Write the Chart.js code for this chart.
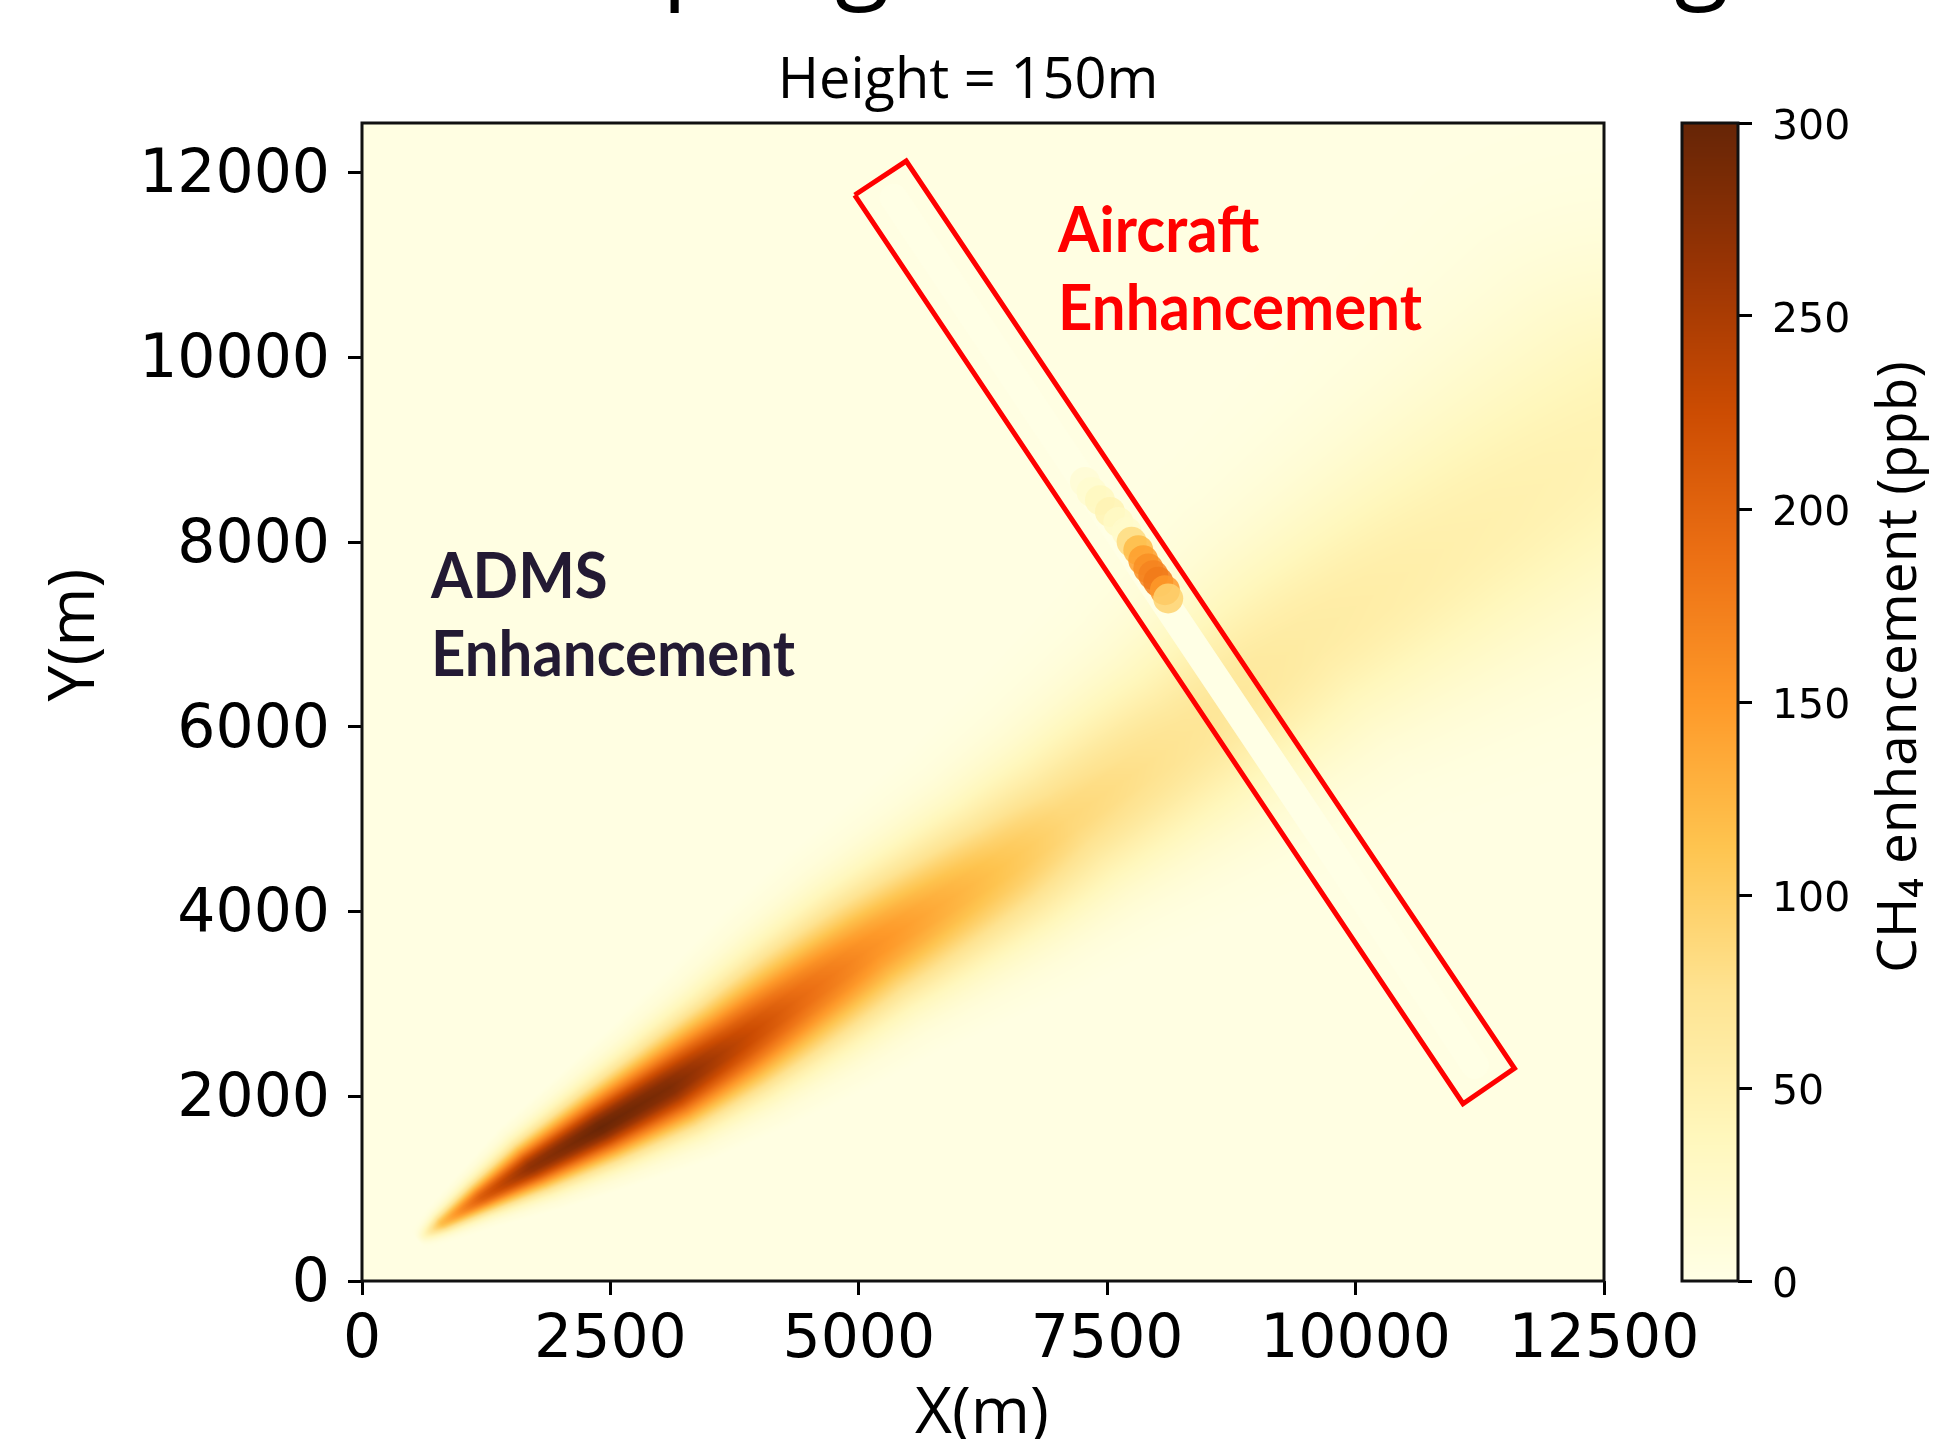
<!DOCTYPE html>
<html>
<head>
<meta charset="utf-8">
<script src="https://cdn.jsdelivr.net/npm/chart.js@4.4.1/dist/chart.umd.min.js"></script>
<style>
  html, body { margin: 0; padding: 0; background: #fff; }
  #wrap { position: relative; width: 1933px; height: 1439px; overflow: hidden; }
  #plume { position: absolute; left: 0; top: 0; }
  #scale { position: absolute; left: 1640px; top: 0; }
</style>
</head>
<body>
<div id="wrap">
  <canvas id="plume" width="1933" height="1439"></canvas>
  <canvas id="scale" width="293" height="1439"></canvas>
</div>
<script>
// axis ticks
const xTicks = [0, 2500, 5000, 7500, 10000, 12500];
const yTicks = [0, 2000, 4000, 6000, 8000, 10000, 12000];
const ch4Ticks = [0, 50, 100, 150, 200, 250, 300];

// ADMS plume (m, ppb, m)
const plumeAxisX = [560, 800, 1200, 1700, 2400, 3100, 3750, 4400, 5100, 5800, 6450, 7100, 8300, 9500, 11000, 12700];
const plumeAxisY = [440, 620, 900, 1230, 1660, 2100, 2560, 3060, 3590, 4060, 4500, 5000, 5900, 6950, 8000, 9200];
const plumePeak = [0, 115, 205, 268, 295, 280, 235, 192, 156, 130, 108, 86, 68, 56, 48, 42];
const plumeSpread = [45, 75, 120, 180, 240, 300, 350, 400, 440, 480, 520, 570, 680, 800, 970, 1150];
const plumeBackground = 3;

// cross-section of the plume: share of the peak at n spreads from the axis
const profileStep = [0, 0.25, 0.5, 0.75, 1, 1.25, 1.5, 1.75, 2, 2.25, 2.5, 2.75, 3];
const profileShare = [1, 0.97, 0.88, 0.75, 0.6, 0.46, 0.33, 0.22, 0.14, 0.08, 0.04, 0.02, 0];

// aircraft samples (m, m, ppb)
const aircraftX = [7276, 7343, 7427, 7528, 7612, 7696, 7746, 7813, 7863, 7914, 7964, 8014, 8081, 8114];
const aircraftY = [8653, 8545, 8455, 8328, 8220, 8112, 8004, 7914, 7806, 7716, 7643, 7571, 7481, 7391];
const aircraftCH4 = [15, 20, 35, 45, 30, 25, 85, 120, 145, 160, 170, 178, 150, 95];

// flight track and the box drawn round it
const trackX = [5350, 11200];
const trackY = [11730, 2340];
const boxX = [4959, 5477, 11599, 11081, 4959];
const boxY = [11760, 12128, 2304, 1920, 11760];

// YlOrBr colour map
const ylOrBr = [[255,255,229],[255,247,188],[254,227,145],[254,196,79],[254,153,41],[236,112,20],[204,76,2],[153,52,4],[102,37,6]];

function colourOf(v) {
  const t = Math.max(0, Math.min(1, v / 300)) * 8;
  const i = Math.min(7, Math.floor(t));
  const f = t - i;
  const a = ylOrBr[i], b = ylOrBr[i + 1];
  return [a[0] + (b[0] - a[0]) * f, a[1] + (b[1] - a[1]) * f, a[2] + (b[2] - a[2]) * f];
}

function rgba(v, alpha) {
  const c = colourOf(v).map(Math.round);
  return `rgba(${c[0]},${c[1]},${c[2]},${alpha})`;
}

function profileAt(r) {
  if (r >= profileStep[profileStep.length - 1]) return 0;
  for (let i = 0; i < profileStep.length - 1; i++) {
    if (r < profileStep[i + 1]) {
      const f = (r - profileStep[i]) / (profileStep[i + 1] - profileStep[i]);
      return profileShare[i] + (profileShare[i + 1] - profileShare[i]) * f;
    }
  }
  return 0;
}

function plumeAt(x, y) {
  let best = Infinity, seg = 0, bt = 0;
  for (let i = 0; i < plumeAxisX.length - 1; i++) {
    const ax = plumeAxisX[i], ay = plumeAxisY[i];
    const dx = plumeAxisX[i + 1] - ax, dy = plumeAxisY[i + 1] - ay;
    let t = ((x - ax) * dx + (y - ay) * dy) / (dx * dx + dy * dy);
    t = t < 0 ? 0 : t > 1 ? 1 : t;
    const ex = x - (ax + t * dx), ey = y - (ay + t * dy);
    const d2 = ex * ex + ey * ey;
    if (d2 < best) { best = d2; seg = i; bt = t; }
  }
  const peak = plumePeak[seg] + (plumePeak[seg + 1] - plumePeak[seg]) * bt;
  const spread = plumeSpread[seg] + (plumeSpread[seg + 1] - plumeSpread[seg]) * bt;
  return plumeBackground + peak * profileAt(Math.sqrt(best) / spread);
}

const plumeLayer = {
  id: 'plumeLayer',
  beforeDatasetsDraw(chart) {
    const { ctx, chartArea, scales } = chart;
    const left = Math.round(chartArea.left), top = Math.round(chartArea.top);
    const w = Math.round(chartArea.right) - left, h = Math.round(chartArea.bottom) - top;
    const img = ctx.createImageData(w, h);
    const xs = [], ys = [];
    for (let i = 0; i < w; i++) xs.push(scales.x.getValueForPixel(left + i + 0.5));
    for (let j = 0; j < h; j++) ys.push(scales.y.getValueForPixel(top + j + 0.5));
    let k = 0;
    for (let j = 0; j < h; j++) {
      for (let i = 0; i < w; i++) {
        const c = colourOf(plumeAt(xs[i], ys[j]));
        img.data[k++] = c[0]; img.data[k++] = c[1]; img.data[k++] = c[2]; img.data[k++] = 255;
      }
    }
    ctx.putImageData(img, left, top);
  },
  afterDatasetsDraw(chart) {
    const { ctx, chartArea } = chart;
    ctx.save();
    ctx.strokeStyle = '#111';
    ctx.lineWidth = 3;
    ctx.strokeRect(chartArea.left, chartArea.top, chartArea.right - chartArea.left, chartArea.bottom - chartArea.top);
    ctx.restore();
  },
};

function drawNote(ctx, lines, colour, x, y) {
  ctx.save();
  ctx.font = 'bold 64px Lato';
  ctx.fillStyle = colour;
  ctx.textAlign = 'left';
  ctx.textBaseline = 'alphabetic';
  const sx = 364 / ctx.measureText('Enhancement').width;
  lines.forEach((line, i) => {
    ctx.save();
    ctx.translate(x, y + i * 78);
    ctx.scale(sx, 1);
    ctx.fillText(line, 0, 0);
    ctx.restore();
  });
  ctx.restore();
}

const textLayer = {
  id: 'textLayer',
  afterDraw(chart) {
    const { ctx, scales } = chart;
    ctx.save();
    ctx.fillStyle = '#000';
    ctx.textBaseline = 'alphabetic';

    ctx.font = '100px "Open Sans"';
    ctx.textAlign = 'left';
    ctx.fillText('Sampling ADMS Data Using Aircraft', 459, -11);

    ctx.font = '56px "Open Sans"';
    ctx.textAlign = 'center';
    ctx.fillText('Height = 150m', 968, 98);

    ctx.font = '64px "Open Sans"';
    ctx.fillText('X(m)', 982, 1433);

    ctx.save();
    ctx.translate(76, 635);
    ctx.rotate(-Math.PI / 2);
    ctx.textBaseline = 'middle';
    ctx.fillText('Y(m)', 0, 0);
    ctx.restore();
    ctx.restore();

    drawNote(ctx, ['ADMS', 'Enhancement'], '#231a33',
      scales.x.getPixelForValue(694), scales.y.getPixelForValue(7394));
    drawNote(ctx, ['Aircraft', 'Enhancement'], '#ff0000',
      scales.x.getPixelForValue(7005), scales.y.getPixelForValue(11140));
  },
};

const tickFont = { family: 'DejaVu Sans', size: 60 };
const tickGrid = { drawOnChartArea: false, drawTicks: true, tickLength: 14, tickWidth: 3, tickColor: '#000' };

new Chart(document.getElementById('plume'), {
  type: 'scatter',
  data: {
    datasets: [
      {
        label: 'Flight box',
        data: boxX.map((x, i) => ({ x, y: boxY[i] })),
        showLine: true,
        borderColor: '#ff0000',
        borderWidth: 5,
        pointRadius: 0,
        borderJoinStyle: 'miter',
      },
      {
        label: 'Aircraft',
        data: aircraftX.map((x, i) => ({ x, y: aircraftY[i] })),
        pointRadius: 15,
        pointBackgroundColor: aircraftCH4.map((v) => rgba(v, 0.85)),
        pointBorderColor: 'transparent',
        pointBorderWidth: 0,
      },
      {
        label: 'Track',
        data: trackX.map((x, i) => ({ x, y: trackY[i] })),
        showLine: true,
        borderColor: rgba(0, 1),
        borderWidth: 28,
        borderCapStyle: 'round',
        pointRadius: 0,
      },
    ],
  },
  options: {
    responsive: false,
    animation: false,
    devicePixelRatio: 1,
    layout: { padding: { top: 123, right: 329, left: 0, bottom: 0 } },
    plugins: { legend: { display: false }, tooltip: { enabled: false } },
    scales: {
      x: {
        type: 'linear',
        min: 0,
        max: 12500,
        afterBuildTicks: (s) => { s.ticks = xTicks.map((value) => ({ value })); },
        afterFit: (s) => { s.height = 158; },
        ticks: { font: tickFont, color: '#000', padding: 10, maxRotation: 0, autoSkip: false, callback: (v) => String(v) },
        grid: tickGrid,
        border: { display: false },
      },
      y: {
        type: 'linear',
        min: 0,
        max: 12540,
        afterBuildTicks: (s) => { s.ticks = yTicks.map((value) => ({ value })); },
        afterFit: (s) => { s.width = 362; },
        ticks: { font: tickFont, color: '#000', padding: 18, labelOffset: 4, autoSkip: false, callback: (v) => String(v) },
        grid: tickGrid,
        border: { display: false },
      },
    },
  },
  plugins: [plumeLayer, textLayer],
});

const colourBar = {
  id: 'colourBar',
  beforeDatasetsDraw(chart) {
    const { ctx, chartArea, scales } = chart;
    for (let py = Math.floor(chartArea.top); py < chartArea.bottom; py++) {
      ctx.fillStyle = rgba(scales.y.getValueForPixel(py + 0.5), 1);
      ctx.fillRect(chartArea.left, py, chartArea.right - chartArea.left, 1);
    }
    ctx.save();
    ctx.strokeStyle = '#111';
    ctx.lineWidth = 3;
    ctx.strokeRect(chartArea.left, chartArea.top, chartArea.right - chartArea.left, chartArea.bottom - chartArea.top);
    ctx.restore();
  },
  afterDraw(chart) {
    const { ctx } = chart;
    ctx.save();
    ctx.translate(260, 667);
    ctx.rotate(-Math.PI / 2);
    ctx.font = '55px "Open Sans"';
    ctx.fillStyle = '#000';
    ctx.textAlign = 'center';
    ctx.textBaseline = 'middle';
    ctx.fillText('CH₄ enhancement (ppb)', 0, 0);
    ctx.restore();
  },
};

new Chart(document.getElementById('scale'), {
  type: 'scatter',
  data: { datasets: [] },
  options: {
    responsive: false,
    animation: false,
    devicePixelRatio: 1,
    layout: { padding: { left: 42, top: 123, bottom: 158, right: 0 } },
    plugins: { legend: { display: false }, tooltip: { enabled: false } },
    scales: {
      x: { type: 'linear', display: false, min: 0, max: 1 },
      y: {
        type: 'linear',
        position: 'right',
        min: 0,
        max: 300,
        afterBuildTicks: (s) => { s.ticks = ch4Ticks.map((value) => ({ value })); },
        afterFit: (s) => { s.width = 195; },
        ticks: { font: { family: 'DejaVu Sans', size: 41 }, color: '#000', padding: 20, labelOffset: 5, callback: (v) => String(v) },
        grid: tickGrid,
        border: { display: false },
      },
    },
  },
  plugins: [colourBar],
});
</script>
</body>
</html>
